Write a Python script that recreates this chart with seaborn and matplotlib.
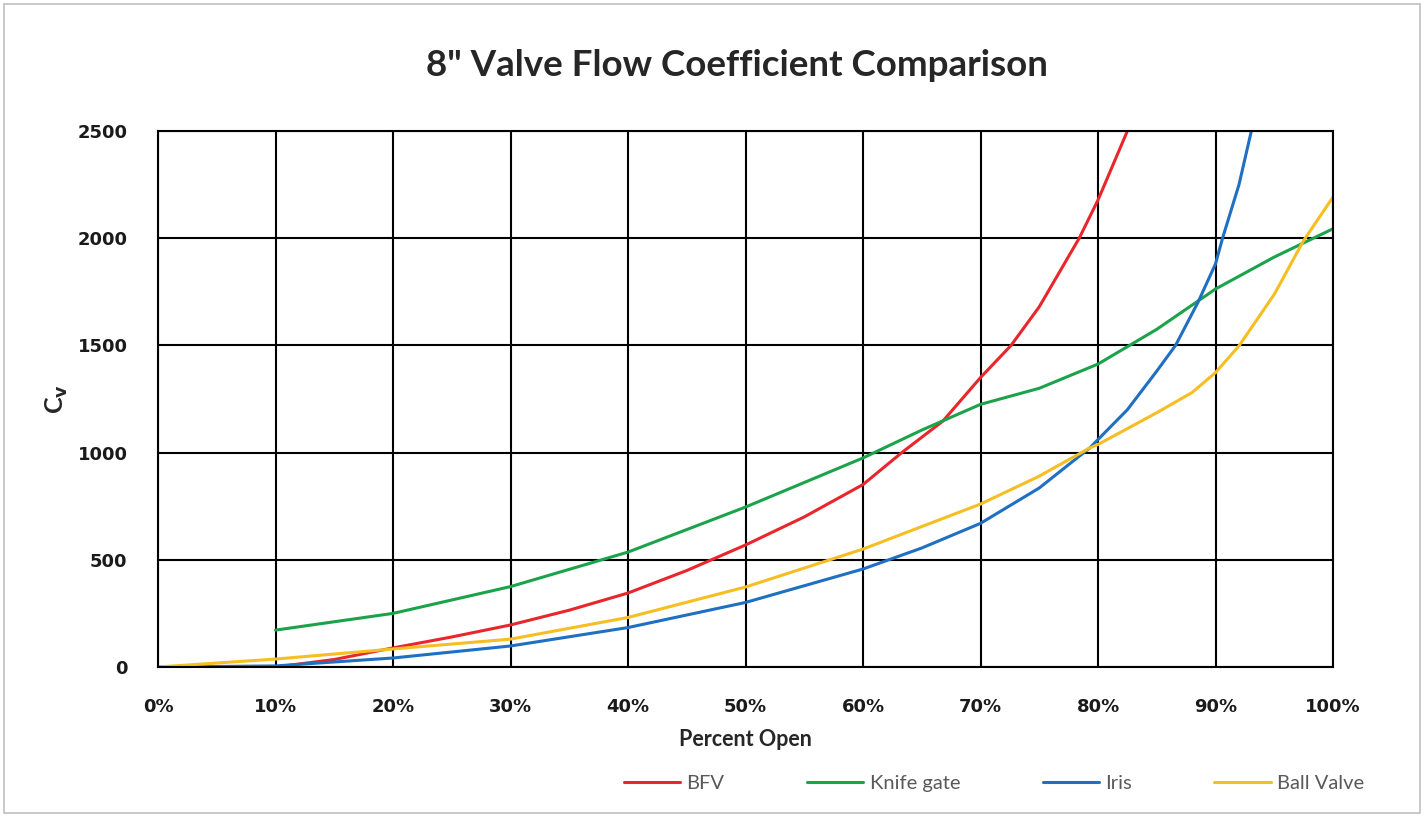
import pandas as pd
import numpy as np
import matplotlib
matplotlib.use("Agg")
import matplotlib.pyplot as plt
import seaborn as sns
from matplotlib.patches import Rectangle

# ==============================
# Data (x in % open, y = Cv)
# ==============================
bfv_x = [10, 15, 20, 25, 30, 35, 40, 45, 50, 55, 60, 63.3, 66.8, 70, 72.6, 75, 78.4, 80, 82.5]
bfv_y = [0, 35, 89, 140, 196, 265, 345, 450, 569, 700, 851, 1000, 1147, 1350, 1500, 1680, 2000, 2178, 2500]

knife_x = [10, 20, 30, 40, 50, 60, 65, 70, 75, 80, 85, 90, 95, 100]
knife_y = [172, 250, 375, 536, 746, 975, 1105, 1225, 1300, 1413, 1575, 1763, 1912, 2044]

iris_x = [0, 10, 20, 30, 40, 50, 60, 65, 70, 75, 79.3, 82.5, 85, 86.6, 88.5, 90, 90.6, 92, 93.05]
iris_y = [0, 5, 42, 98, 184, 301, 457, 555, 670, 835, 1022, 1200, 1380, 1500, 1700, 1880, 2000, 2250, 2500]

ball_x = [0, 10, 20, 30, 40, 50, 60, 70, 75, 79.3, 80, 85, 88, 90, 92, 95, 97.5, 100]
ball_y = [0, 37, 84, 130, 231, 373, 550, 760, 890, 1022, 1038, 1186, 1280, 1373, 1498, 1738, 1989, 2192]

series = ["BFV", "Knife gate", "Iris", "Ball Valve"]
colors = ["#E8262B", "#1BA34B", "#1F6FC3", "#F6BE22"]

x_ticks = list(range(0, 101, 10))
x_tick_labels = [f"{t}%" for t in x_ticks]
y_ticks = [0, 500, 1000, 1500, 2000, 2500]

# ==============================
# Build long table for seaborn
# ==============================
frames = []
for name, xs, ys in zip(series, [bfv_x, knife_x, iris_x, ball_x], [bfv_y, knife_y, iris_y, ball_y]):
    frames.append(pd.DataFrame({"pct": xs, "cv": ys, "valve": name}))
df = pd.concat(frames, ignore_index=True)

# ==============================
# Plot
# ==============================
sns.set_style("white")
plt.rcParams['font.family'] = ['DejaVu Sans']

fig = plt.figure(figsize=(14.26, 8.17), dpi=100)
ax = fig.add_axes([158 / 1426, 150 / 817, 1175 / 1426, 536 / 817])

sns.lineplot(data=df, x="pct", y="cv", hue="valve", hue_order=series,
             palette=colors, linewidth=2.2, sort=False, estimator=None,
             ax=ax, legend=True)

ax.set_xlim(0, 100)
ax.set_ylim(0, 2500)
ax.set_xticks(x_ticks)
ax.set_xticklabels(x_tick_labels)
ax.set_yticks(y_ticks)
ax.grid(True, color="black", linewidth=1.5)
ax.set_axisbelow(True)
for sp in ax.spines.values():
    sp.set_color("black")
    sp.set_linewidth(1.5)

ax.tick_params(axis="both", length=0, labelsize=13, labelcolor="#1a1a1a")
ax.tick_params(axis="x", pad=22)
ax.tick_params(axis="y", pad=22)
for lbl in ax.get_xticklabels() + ax.get_yticklabels():
    lbl.set_fontweight("bold")

ax.set_xlabel("Percent Open", fontsize=15.5, fontweight="bold", family="Lato", labelpad=10)
ax.set_ylabel(r"C$_\mathbf{v}$", fontsize=18, fontweight="bold", family="Lato")
ax.yaxis.set_label_coords(-0.075, 0.5)

fig.text(737 / 1426, 1 - 65 / 817, "8\" Valve Flow Coefficient Comparison",
         ha="center", va="center", fontsize=26.5, fontweight="bold", family="Lato")

# legend along the bottom right
handles, labels = ax.get_legend_handles_labels()
ax.get_legend().remove()
leg = fig.legend(handles, labels, ncol=4, loc="center", frameon=False,
                 bbox_to_anchor=(994 / 1426, 1 - 783 / 817),
                 handlelength=2.8, columnspacing=4.1, handletextpad=0.3,
                 prop={"family": "Lato", "size": 14.5})
for t in leg.get_texts():
    t.set_color("#595959")

# light frame round the chart area
fig.patches.append(Rectangle((0.003, 0.005), 0.993, 0.99, transform=fig.transFigure,
                             fill=False, edgecolor="#BFBFBF", linewidth=1.2))

fig.savefig("out.png", dpi=100)
